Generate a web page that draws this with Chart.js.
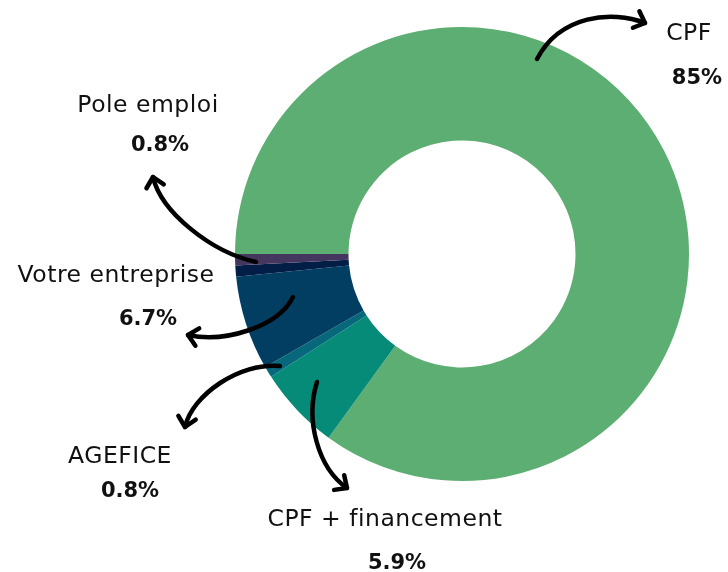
<!DOCTYPE html>
<html>
<head>
<meta charset="utf-8">
<script src="https://cdn.jsdelivr.net/npm/chart.js@4/dist/chart.umd.min.js"></script>
<style>
  html, body { margin: 0; padding: 0; background: #fff; }
  #chart { display: block; }
</style>
</head>
<body>
<canvas id="chart" width="728" height="572"></canvas>
<script>
// {{{ data
const categories = ['CPF', 'CPF + financement', 'AGEFICE', 'Votre entreprise', 'Autre', 'Pole emploi'];
const shares = [85, 5.9, 0.8, 6.7, 0.8, 0.8];
const shareLabels = ['85%', '5.9%', '0.8%', '6.7%', null, '0.8%'];
const colors = ['#5dae72', '#058b78', '#07687b', '#023e62', '#021e47', '#45365f'];
// }}}
// {{{ label + arrow layout (name x, name baseline, pct x, pct baseline, arrow path)
const callouts =
[
  {name: [689, 40], pct: [697, 84], arrow: [[537, 59], [560, 15], [612, 10], [645, 23]]},
  {name: [385, 526], pct: [397, 569], arrow: [[317, 382], [305, 420], [318, 468], [347, 488]]},
  {name: [120, 463], pct: [130, 497], arrow: [[280, 366], [240, 362], [192, 395], [185, 427]]},
  {name: [116, 282], pct: [148, 325], arrow: [[293, 297], [278, 327], [225, 343], [188, 335]]},
  null,
  {name: [148, 112], pct: [160, 151], arrow: [[256, 262], [211, 252], [161, 212], [153, 177]]}
];
// }}}
const FONT = '"DejaVu Sans", sans-serif';
// {{{ arrow()
function arrow(ctx, p)
{
  ctx.beginPath();
  ctx.moveTo(p[0][0], p[0][1]);
  ctx.bezierCurveTo(p[1][0], p[1][1], p[2][0], p[2][1], p[3][0], p[3][1]);
  ctx.stroke();
  let a = Math.atan2(p[3][1] - p[2][1], p[3][0] - p[2][0]);
  let len = 13;
  ctx.beginPath();
  ctx.moveTo(p[3][0] - len * Math.cos(a - 0.75), p[3][1] - len * Math.sin(a - 0.75));
  ctx.lineTo(p[3][0], p[3][1]);
  ctx.lineTo(p[3][0] - len * Math.cos(a + 0.75), p[3][1] - len * Math.sin(a + 0.75));
  ctx.stroke();
}
// }}}
// {{{ callout plugin
const calloutPlugin =
{
  id: 'callouts',
  afterDraw(chart)
  {
    let ctx = chart.ctx;
    ctx.save();
    ctx.strokeStyle = '#000';
    ctx.lineWidth = 4.5;
    ctx.lineCap = 'round';
    ctx.lineJoin = 'round';
    ctx.fillStyle = '#111';
    ctx.textAlign = 'center';
    ctx.textBaseline = 'alphabetic';
    chart.data.labels.forEach((name, i) =>
    {
      let c = callouts[i];
      if (!c || !shareLabels[i])
      {
        return;
      }
      arrow(ctx, c.arrow);
      ctx.font = 'normal 23.5px ' + FONT;
      ctx.letterSpacing = '0.5px';
      ctx.fillText(name, c.name[0], c.name[1]);
      ctx.font = 'bold 21px ' + FONT;
      ctx.letterSpacing = '0px';
      ctx.fillText(shareLabels[i], c.pct[0], c.pct[1]);
    });
    ctx.restore();
  }
};
// }}}
new Chart(document.getElementById('chart'),
{
  type: 'doughnut',
  data:
  {
    labels: categories,
    datasets: [{data: shares, backgroundColor: colors, borderWidth: 0}]
  },
  options:
  {
    responsive: false,
    animation: false,
    rotation: -90,
    cutout: '50%',
    layout: {padding: {left: 235, right: 39, top: 27, bottom: 91}},
    plugins: {legend: {display: false}, tooltip: {enabled: false}}
  },
  plugins: [calloutPlugin]
});
</script>
</body>
</html>
